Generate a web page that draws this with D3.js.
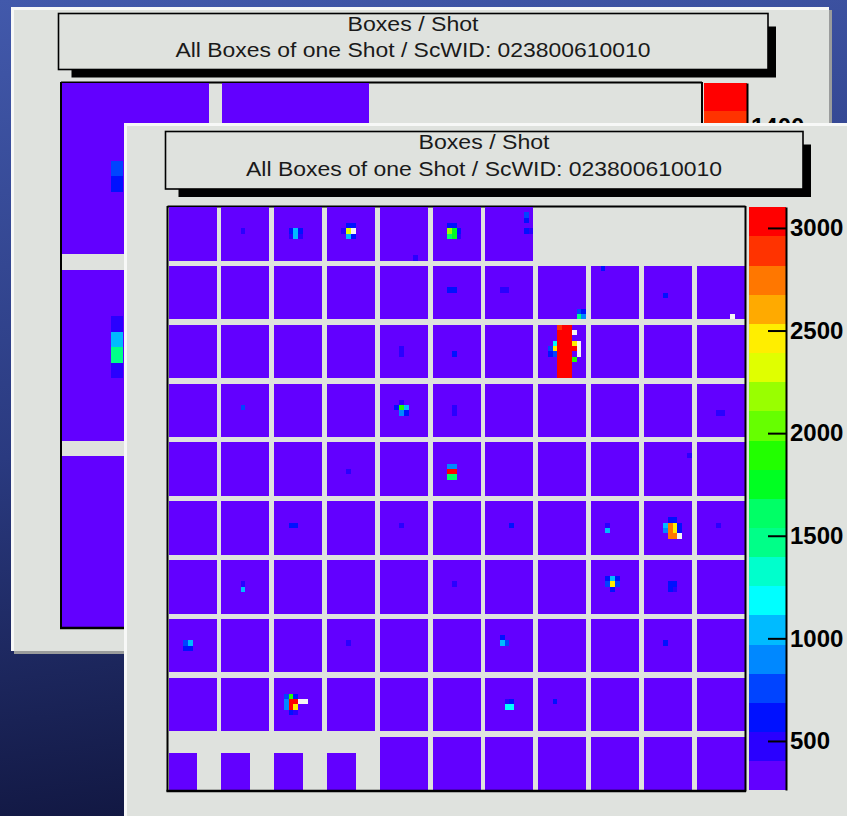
<!DOCTYPE html>
<html>
<head>
<meta charset="utf-8">
<script src="https://cdn.jsdelivr.net/npm/d3@7"></script>
<style>
  html, body { margin: 0; padding: 0; background: #1b2356; }
  svg { display: block; }
  text { font-family: "Liberation Sans", Arimo, Arial, sans-serif; }
</style>
</head>
<body>
<svg id="chart" width="847" height="816"></svg>
<script>
// ---------------------------------------------------------------
// Data
// ---------------------------------------------------------------
const titleLine1 = "Boxes / Shot";
const titleLine2 = "All Boxes of one Shot /  ScWID: 023800610010";

// Colour palette of the z axis, lowest band first (20 contour levels)
const palette = ["#6200ff", "#2a00ff", "#0011ff", "#0044ff", "#0088ff",
                 "#00bbff", "#00ffff", "#00ffcc", "#00ff88", "#00ff66",
                 "#00ff22", "#22ff00", "#66ff00", "#99ff00", "#e0ff00",
                 "#ffee00", "#ffaa00", "#ff7700", "#ff3300", "#ff0000"];
const overflowColor = "#f4f4f4";

// Main canvas: z range, tick labels
const mainZRange = [261, 3102];
const mainTicks = [500, 1000, 1500, 2000, 2500, 3000];
// Boxes per detector row (top row first); each box is 10 x 10 bins
const mainRowBoxes = [7, 11, 11, 11, 11, 11, 11, 11, 11, 11];
// Columns of the bottom row that hold the short boxes (6 x 7 bins)
const mainShortBoxes = [0, 1, 2, 3];
const mainBaseCount = 300;
// Hot bins: [box column, box row, bin x, bin y (from top), counts]
const mainHotBins = [
  [1,0,4,4,450],
  [2,0,4,4,1050],[2,0,4,5,1050],[2,0,3,4,600],[2,0,5,4,600],[2,0,3,5,450],[2,0,5,5,450],
  [3,0,4,3,600],[3,0,5,3,600],[3,0,4,4,2350],[3,0,5,4,3300],[3,0,4,5,1050],[3,0,5,5,600],[3,0,3,4,450],
  [4,0,7,9,450],
  [5,0,3,4,2200],[5,0,4,4,1750],[5,0,3,5,1600],[5,0,4,5,1750],[5,0,3,3,600],[5,0,4,3,600],[5,0,5,4,600],[5,0,5,5,450],
  [6,0,8,1,750],[6,0,8,2,600],[6,0,8,4,600],[6,0,9,4,450],
  [5,1,3,4,600],[5,1,4,4,600],
  [6,1,3,4,450],[6,1,4,4,450],
  [8,1,2,0,600],
  [7,1,8,8,750],[7,1,9,8,600],[7,1,8,9,1450],[7,1,9,9,900],
  [9,1,4,5,600],
  [10,1,7,9,3300],
  [4,2,4,4,450],[4,2,4,5,450],
  [5,2,4,5,600],
  [7,2,4,0,2900],[7,2,5,0,3050],[7,2,6,0,3050],
  [7,2,4,1,3050],[7,2,5,1,3050],[7,2,6,1,3050],
  [7,2,4,2,3050],[7,2,5,2,3050],[7,2,6,2,3050],
  [7,2,4,3,3050],[7,2,5,3,3050],[7,2,6,3,3050],
  [7,2,4,4,3050],[7,2,5,4,3050],[7,2,6,4,3050],
  [7,2,4,5,3050],[7,2,5,5,3050],[7,2,6,5,3050],
  [7,2,4,6,3050],[7,2,5,6,3050],[7,2,6,6,3050],
  [7,2,4,7,3050],[7,2,5,7,3050],[7,2,6,7,3050],
  [7,2,4,8,3050],[7,2,5,8,3050],[7,2,6,8,3050],
  [7,2,4,9,3050],[7,2,5,9,3050],[7,2,6,9,3050],
  [7,2,3,3,1200],[7,2,3,4,2500],[7,2,2,4,750],[7,2,2,5,600],[7,2,3,5,750],
  [7,2,7,3,2500],[7,2,7,4,3050],[7,2,7,6,1900],
  [7,2,7,1,3300],[7,2,8,3,3300],[7,2,8,4,3300],[7,2,8,5,3300],
  [1,3,4,4,750],
  [4,3,4,4,1900],[4,3,5,4,1050],[4,3,4,5,900],[4,3,5,5,600],[4,3,4,3,450],[4,3,3,4,600],
  [5,3,4,4,450],[5,3,4,5,450],
  [10,3,4,5,450],[10,3,5,5,450],
  [3,4,4,5,450],
  [5,4,3,4,900],[5,4,4,4,900],[5,4,3,5,3050],[5,4,4,5,3050],[5,4,3,6,1600],[5,4,4,6,1600],
  [9,4,9,2,450],
  [2,5,3,4,600],[2,5,4,4,600],
  [4,5,4,4,450],
  [6,5,5,4,600],
  [8,5,3,5,1050],[8,5,3,4,450],
  [9,5,4,4,1050],[9,5,4,5,900],[9,5,5,3,600],[9,5,6,3,600],
  [9,5,5,4,2800],[9,5,5,5,2800],[9,5,5,6,2800],[9,5,6,4,2500],[9,5,6,5,2500],
  [9,5,6,6,2800],[9,5,7,6,3300],[9,5,7,4,600],[9,5,7,5,600],
  [10,5,4,4,450],
  [1,6,4,4,450],[1,6,4,5,1050],
  [5,6,4,4,450],
  [8,6,4,3,1050],[8,6,4,4,2500],[8,6,3,4,750],[8,6,5,4,750],[8,6,3,3,600],[8,6,5,3,600],[8,6,4,5,600],
  [9,6,5,4,600],[9,6,6,4,600],[9,6,5,5,600],[9,6,6,5,450],
  [0,7,3,4,750],[0,7,4,4,1050],[0,7,3,5,600],[0,7,4,5,600],
  [3,7,4,4,450],
  [6,7,3,4,1050],[6,7,4,4,750],[6,7,3,3,600],
  [9,7,4,4,600],
  [2,8,2,3,750],[2,8,3,3,1900],[2,8,4,3,600],
  [2,8,2,4,900],[2,8,3,4,3050],[2,8,4,4,3050],[2,8,5,4,3300],[2,8,6,4,3300],
  [2,8,2,5,900],[2,8,3,5,3050],[2,8,4,5,2500],
  [2,8,3,6,600],[2,8,4,6,450],
  [6,8,4,5,1200],[6,8,5,5,1200],[6,8,5,4,600],[6,8,4,4,450],
  [7,8,3,4,600]
];

// Canvas behind: z range, tick label, layout (boxes of 12 x 11 bins)
const backZRange = [250, 1501];
const backTicks = [1400];
const backRowBoxes = [2, 4, 4];
const backBaseCount = 280;
const backHotBins = [
  [0,0,4,5,470],[0,0,4,6,410],
  [0,1,4,3,344],[0,1,4,4,594],[0,1,4,5,781],[0,1,4,6,344]
];

// ---------------------------------------------------------------
// Drawing
// ---------------------------------------------------------------
const svg = d3.select("#chart");
const W = 847, H = 816;
const padGrey = "#dfe2de";

const defs = svg.append("defs");
const bg = defs.append("linearGradient").attr("id", "bgGrad")
  .attr("x1", 0).attr("y1", 0).attr("x2", 0.15).attr("y2", 1);
bg.append("stop").attr("offset", "0%").attr("stop-color", "#4259ab");
bg.append("stop").attr("offset", "55%").attr("stop-color", "#2a3a80");
bg.append("stop").attr("offset", "100%").attr("stop-color", "#121843");
svg.append("rect").attr("width", W).attr("height", H).attr("fill", "url(#bgGrad)");

function drawWindow(g, x, y, w, h) {
  // bottom / right shade
  g.append("rect").attr("x", x + 3).attr("y", y + 3).attr("width", w).attr("height", h)
    .attr("fill", "#9a9c9c");
  g.append("rect").attr("x", x).attr("y", y).attr("width", w).attr("height", h)
    .attr("fill", "#f7f8f7");
  g.append("rect").attr("x", x + 3).attr("y", y + 3).attr("width", w - 3).attr("height", h - 3)
    .attr("fill", padGrey);
}

function drawTitle(g, box, cx, y1, y2, len1, len2, fs) {
  const [x0, y0, x1, yb] = box;
  // drop shadow
  g.append("path")
    .attr("d", `M${x0 + 13},${yb} L${x0 + 13},${yb + 8} L${x1 + 8},${yb + 8} L${x1 + 8},${y0 + 13} L${x1},${y0 + 13} L${x1},${yb} Z`)
    .attr("fill", "#000");
  g.append("rect").attr("x", x0).attr("y", y0).attr("width", x1 - x0).attr("height", yb - y0)
    .attr("fill", padGrey).attr("stroke", "#000").attr("stroke-width", 1.6);
  g.append("text").attr("x", cx).attr("y", y1).attr("text-anchor", "middle")
    .attr("font-size", fs).attr("fill", "#1a1a1a")
    .attr("textLength", len1).attr("lengthAdjust", "spacingAndGlyphs").text(titleLine1);
  g.append("text").attr("x", cx).attr("y", y2).attr("text-anchor", "middle")
    .attr("font-size", fs).attr("fill", "#1a1a1a")
    .attr("textLength", len2).attr("lengthAdjust", "spacingAndGlyphs").text(titleLine2);
}

// Build the bin list of a detector image
function buildBins(rowBoxes, boxNX, boxNY, base, hot, shortCols, shortNX, shortNY) {
  const hotMap = new Map(hot.map(d => [d.slice(0, 4).join(","), d[4]]));
  const bins = [];
  const lastRow = rowBoxes.length - 1;
  rowBoxes.forEach((n, row) => {
    for (let col = 0; col < n; col++) {
      const isShort = shortCols && row === lastRow && shortCols.includes(col);
      const nx = isShort ? shortNX : boxNX;
      const yStart = isShort ? boxNY - shortNY : 0;
      for (let by = yStart; by < boxNY; by++) {
        for (let bx = 0; bx < nx; bx++) {
          const key = [col, row, bx, by].join(",");
          bins.push({
            ix: col * (boxNX + 1) + bx,
            iy: row * (boxNY + 1) + by,
            v: hotMap.has(key) ? hotMap.get(key) : base
          });
        }
      }
    }
  });
  return bins;
}

function drawHistogram(g, cfg) {
  const x = d3.scaleLinear().domain([0, cfg.nx]).range([cfg.left, cfg.right]);
  const y = d3.scaleLinear().domain([0, cfg.ny]).range([cfg.top, cfg.bottom]);
  const z = d3.scaleQuantize().domain(cfg.zRange).range(palette);
  const colorOf = v => v > cfg.zRange[1] ? overflowColor : z(v);

  // frame top line sits beneath the bins
  g.append("line").attr("x1", cfg.left - 1).attr("x2", cfg.right + 1)
    .attr("y1", cfg.top - 0.5).attr("y2", cfg.top - 0.5)
    .attr("stroke", "#000").attr("stroke-width", 2);

  const bins = buildBins(cfg.rowBoxes, cfg.boxNX, cfg.boxNY, cfg.base, cfg.hot,
                         cfg.shortCols, cfg.shortNX, cfg.shortNY);
  g.append("g").attr("shape-rendering", "crispEdges")
    .selectAll("rect").data(bins).join("rect")
    .attr("x", d => x(d.ix)).attr("y", d => y(d.iy))
    .attr("width", x(1) - x(0) + 0.02).attr("height", y(1) - y(0) + 0.02)
    .attr("fill", d => colorOf(d.v));

  // remaining frame borders
  const fr = g.append("g").attr("stroke", "#000").attr("fill", "none");
  fr.append("line").attr("x1", cfg.left - 1).attr("x2", cfg.left - 1)
    .attr("y1", cfg.top - 1).attr("y2", cfg.bottom + 1.5).attr("stroke-width", 2);
  fr.append("line").attr("x1", cfg.left - 2).attr("x2", cfg.right + 1.5)
    .attr("y1", cfg.bottom + 1).attr("y2", cfg.bottom + 1).attr("stroke-width", 2.5);
  fr.append("line").attr("x1", cfg.right + 1).attr("x2", cfg.right + 1)
    .attr("y1", cfg.top - 1).attr("y2", cfg.bottom + 1.5).attr("stroke-width", 2);

  // colour bar
  const zy = d3.scaleLinear().domain(cfg.zRange).range([cfg.bottom, cfg.top]);
  const step = (cfg.zRange[1] - cfg.zRange[0]) / palette.length;
  const bands = palette.map((c, i) => ({ lo: cfg.zRange[0] + i * step, hi: cfg.zRange[0] + (i + 1) * step, c }));
  g.append("g").attr("shape-rendering", "crispEdges")
    .selectAll("rect").data(bands).join("rect")
    .attr("x", cfg.barLeft).attr("width", cfg.barRight - cfg.barLeft)
    .attr("y", d => zy(d.hi)).attr("height", d => zy(d.lo) - zy(d.hi) + 0.3)
    .attr("fill", d => d.c);

  const axis = d3.axisRight(zy).tickValues(cfg.ticks).tickSizeInner(-18).tickSizeOuter(0)
    .tickPadding(4).tickFormat(d3.format("d"));
  const ag = g.append("g").attr("transform", `translate(${cfg.barRight},0)`).call(axis);
  ag.select(".domain").attr("stroke", "#000").attr("stroke-width", 2);
  ag.selectAll(".tick line").attr("stroke", "#000").attr("stroke-width", 2);
  ag.selectAll(".tick text").attr("fill", "#000")
    .attr("font-family", "'Liberation Sans', Arimo, Arial, sans-serif")
    .attr("font-weight", "bold").attr("font-size", 24);
}

// ---- canvas behind ----
const back = svg.append("g");
drawWindow(back, 11, 7, 818, 644);
drawTitle(back, [58.5, 13.5, 768, 69.5], 413, 31, 57, 131, 475, 20.5);
drawHistogram(back, {
  left: 62, right: 701, top: 83, bottom: 627,
  nx: 52, ny: 35, boxNX: 12, boxNY: 11,
  rowBoxes: backRowBoxes, base: backBaseCount, hot: backHotBins,
  zRange: backZRange, ticks: backTicks,
  barLeft: 704, barRight: 747
});

// ---- main canvas ----
const front = svg.append("g");
drawWindow(front, 124, 123, 760, 720);
drawTitle(front, [165.5, 131.5, 803, 189], 484, 149, 176, 131, 476, 20.5);
drawHistogram(front, {
  left: 168.5, right: 744.5, top: 207, bottom: 790,
  nx: 120, ny: 109, boxNX: 10, boxNY: 10,
  rowBoxes: mainRowBoxes, base: mainBaseCount, hot: mainHotBins,
  shortCols: mainShortBoxes, shortNX: 6, shortNY: 7,
  zRange: mainZRange, ticks: mainTicks,
  barLeft: 749, barRight: 786
});
</script>
</body>
</html>
